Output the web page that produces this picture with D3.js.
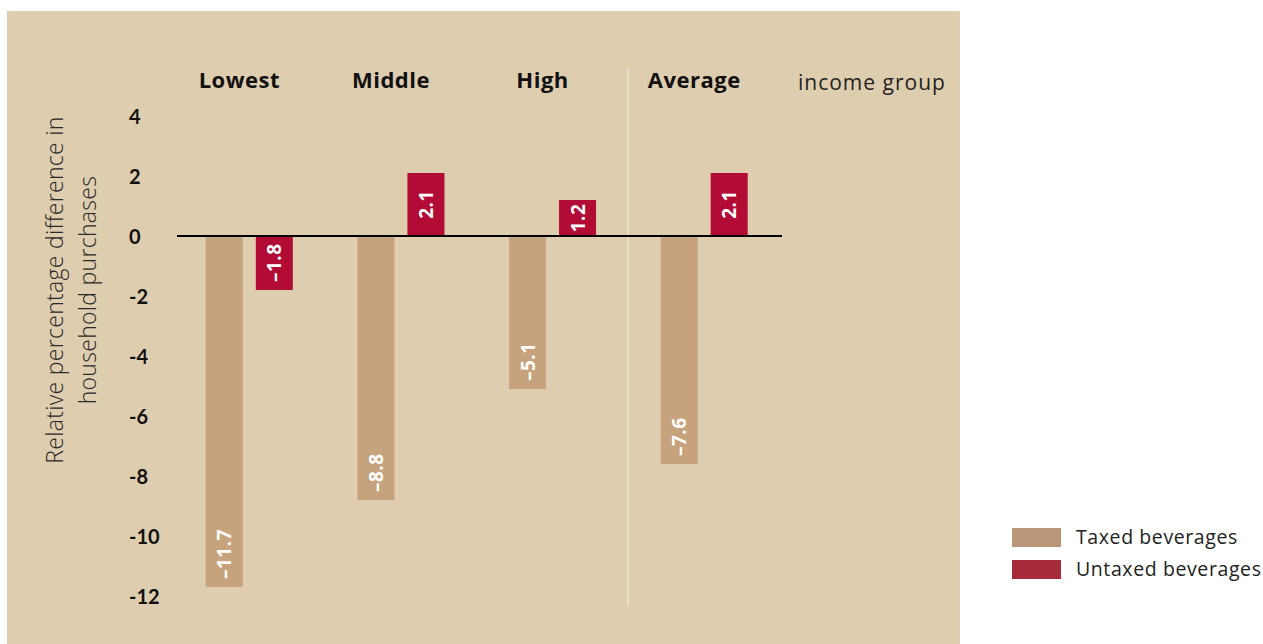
<!DOCTYPE html>
<html>
<head>
<meta charset="utf-8">
<script src="https://cdn.jsdelivr.net/npm/d3@7"></script>
<style>
  body { margin: 0; background: #fff; }
  svg text { font-family: "Open Sans", Lato, sans-serif; }
</style>
</head>
<body>
<div class="chart"></div>
<script>
'use strict';

// data
const groups = ["Lowest", "Middle", "High", "Average"];
const series = ["Taxed beverages", "Untaxed beverages"];
const taxed = [-11.7, -8.8, -5.1, -7.6];
const untaxed = [-1.8, 2.1, 1.2, 2.1];
const yTicks = [4, 2, 0, -2, -4, -6, -8, -10, -12];

const W = 1263, H = 644;
const barColors = ["#c7a37d", "#b10b36"];
const legendColors = ["#b99678", "#a52a3a"];

const svg = d3.select(".chart")
  .append("svg")
  .attr("width", W)
  .attr("height", H);

// beige panel
svg.append("rect")
  .attr("x", 7).attr("y", 11)
  .attr("width", 953).attr("height", H - 11)
  .attr("fill", "#dfcdb0");

// scales
const y = d3.scaleLinear().domain([-12, 4]).range([596, 116]);
const x0 = d3.scaleBand().domain(groups).range([173.5, 780]);
const x1 = d3.scaleBand().domain(series).range([-43.5, 43.5]).paddingInner(0.26);

// separator before "Average"
svg.append("line")
  .attr("x1", 628).attr("x2", 628)
  .attr("y1", 68).attr("y2", 606)
  .attr("stroke", "#eadcc6")
  .attr("stroke-width", 2);

// y axis labels (no line, no ticks)
const yAxis = d3.axisLeft(y)
  .tickValues(yTicks)
  .tickSize(0)
  .tickFormat(d => String(d));
const yg = svg.append("g")
  .attr("transform", "translate(129,0)")
  .call(yAxis);
yg.select(".domain").remove();
yg.selectAll("text")
  .attr("x", 0)
  .attr("text-anchor", "start")
  .attr("dy", "0.35em")
  .style("font-family", "Lato, sans-serif")
  .style("font-size", "20px")
  .style("font-weight", "700")
  .style("fill", "#111");

// y axis title
const yTitle = svg.append("text")
  .attr("transform", "translate(63,290) rotate(-90)")
  .attr("text-anchor", "middle")
  .style("font-size", "23px")
  .style("font-weight", "300")
  .style("letter-spacing", "0.3px")
  .style("fill", "#2a2a2a");
yTitle.append("tspan").attr("x", 0).attr("y", 0).text("Relative percentage difference in");
yTitle.append("tspan").attr("x", 0).attr("y", 33).text("household purchases");

// bars
const rows = groups.map((g, i) => ({
  group: g,
  values: [
    {key: series[0], value: taxed[i], idx: 0},
    {key: series[1], value: untaxed[i], idx: 1}
  ]
}));

const gGroups = svg.selectAll(".grp")
  .data(rows)
  .enter()
  .append("g")
  .attr("class", "grp")
  .attr("transform", d => `translate(${x0(d.group) + x0.bandwidth() / 2},0)`);

gGroups.selectAll("rect")
  .data(d => d.values)
  .enter()
  .append("rect")
  .attr("x", d => x1(d.key))
  .attr("width", x1.bandwidth())
  .attr("y", d => y(Math.max(0, d.value)))
  .attr("height", d => Math.abs(y(d.value) - y(0)))
  .attr("fill", d => barColors[d.idx]);

// value labels
const fmt = v => (v < 0 ? "\u2013" : "") + Math.abs(v).toFixed(1);
gGroups.selectAll(".val")
  .data(d => d.values)
  .enter()
  .append("text")
  .attr("class", "val")
  .attr("transform", d => {
    const cx = x1(d.key) + x1.bandwidth() / 2;
    const cy = d.value < 0 ? y(d.value) - 8 : (y(d.value) + y(0)) / 2;
    return `translate(${cx},${cy}) rotate(-90)`;
  })
  .attr("text-anchor", d => d.value < 0 ? "start" : "middle")
  .attr("dominant-baseline", "central")
  .style("font-size", "19px")
  .style("font-weight", "700")
  .style("letter-spacing", "0.5px")
  .style("fill", "#fff")
  .text(d => fmt(d.value));

// zero line
svg.append("line")
  .attr("x1", 177).attr("x2", 782)
  .attr("y1", y(0)).attr("y2", y(0))
  .attr("stroke", "#000")
  .attr("stroke-width", 2);

// group labels
svg.selectAll(".glabel")
  .data(groups)
  .enter()
  .append("text")
  .attr("class", "glabel")
  .attr("x", d => x0(d) + x0.bandwidth() / 2 - 10)
  .attr("y", 88)
  .attr("text-anchor", "middle")
  .style("font-size", "22px")
  .style("font-weight", "700")
  .style("letter-spacing", "0.5px")
  .style("fill", "#111")
  .text(d => d);

svg.append("text")
  .attr("x", 798).attr("y", 90)
  .style("font-size", "21px")
  .style("letter-spacing", "1px")
  .style("fill", "#222")
  .text("income group");

// legend
const legend = svg.append("g")
  .attr("transform", "translate(1012,528)")
  .selectAll("g")
  .data(series)
  .enter()
  .append("g")
  .attr("transform", (d, i) => `translate(0,${i * 32})`);
legend.append("rect")
  .attr("width", 49).attr("height", 19)
  .attr("fill", (d, i) => legendColors[i]);
legend.append("text")
  .attr("x", 64).attr("y", 16)
  .style("font-size", "19.5px")
  .style("letter-spacing", "0.6px")
  .style("fill", "#222")
  .text(d => d);
</script>
</body>
</html>
